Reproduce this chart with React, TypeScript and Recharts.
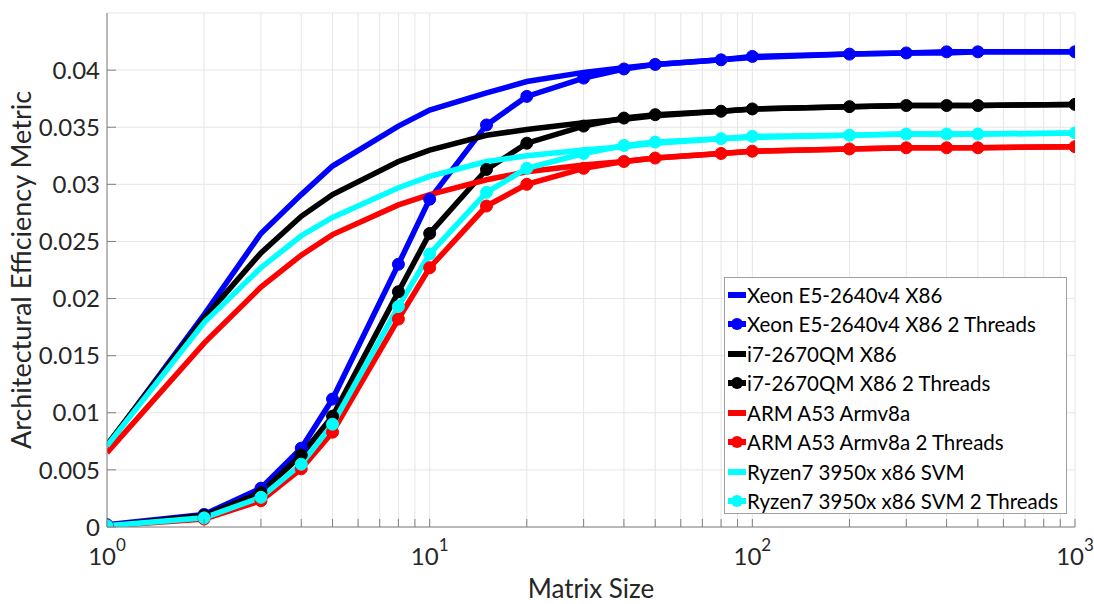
import React from 'react';
import { LineChart, Line, XAxis, YAxis, CartesianGrid, Legend } from 'recharts';

const sizes = [1, 2, 3, 4, 5, 8, 10, 15, 20, 30, 40, 50, 80, 100, 200, 300, 400, 500, 1000];

const xeon = [0.0071, 0.0186, 0.0257, 0.0291, 0.0316, 0.0351, 0.0365, 0.038, 0.039, 0.0398, 0.0402, 0.0405, 0.0409, 0.0411, 0.0414, 0.0415, 0.0415, 0.0416, 0.0416];
const xeon2 = [0.0002, 0.0011, 0.0034, 0.0069, 0.0112, 0.023, 0.0287, 0.0352, 0.0377, 0.0393, 0.0401, 0.0405, 0.0409, 0.0412, 0.0414, 0.0415, 0.0416, 0.0416, 0.0416];
const i7 = [0.0072, 0.0183, 0.024, 0.0272, 0.0291, 0.032, 0.033, 0.0343, 0.0348, 0.0354, 0.0357, 0.036, 0.0364, 0.0366, 0.0368, 0.0369, 0.0369, 0.0369, 0.037];
const i72 = [0.0001, 0.001, 0.003, 0.0063, 0.0097, 0.0206, 0.0257, 0.0313, 0.0336, 0.0351, 0.0358, 0.0361, 0.0364, 0.0366, 0.0368, 0.0369, 0.0369, 0.0369, 0.037];
const arm = [0.0065, 0.0161, 0.021, 0.0238, 0.0256, 0.0282, 0.0291, 0.0304, 0.0311, 0.0317, 0.032, 0.0323, 0.0327, 0.0329, 0.0331, 0.0332, 0.0332, 0.0332, 0.0333];
const arm2 = [0.0001, 0.0007, 0.0023, 0.0051, 0.0083, 0.0182, 0.0227, 0.0281, 0.03, 0.0314, 0.032, 0.0323, 0.0327, 0.0329, 0.0331, 0.0332, 0.0332, 0.0332, 0.0333];
const ryzen = [0.0071, 0.0179, 0.0227, 0.0255, 0.0271, 0.0297, 0.0307, 0.032, 0.0325, 0.033, 0.0333, 0.0336, 0.034, 0.0341, 0.0343, 0.0344, 0.0344, 0.0344, 0.0345];
const ryzen2 = [0.0001, 0.0008, 0.0026, 0.0055, 0.009, 0.0193, 0.0239, 0.0293, 0.0314, 0.0327, 0.0334, 0.0337, 0.034, 0.0342, 0.0343, 0.0344, 0.0344, 0.0344, 0.0345];

const yTicks = [0, 0.005, 0.01, 0.015, 0.02, 0.025, 0.03, 0.035, 0.04];
const xTicks = [1, 2, 3, 4, 5, 6, 7, 8, 9, 10, 20, 30, 40, 50, 60, 70, 80, 90, 100, 200, 300, 400, 500, 600, 700, 800, 900, 1000];

const series = [
  { key: 'xeon', name: 'Xeon E5-2640v4 X86', color: '#0000ff', values: xeon, dots: false },
  { key: 'xeon2', name: 'Xeon E5-2640v4 X86 2 Threads', color: '#0000ff', values: xeon2, dots: true },
  { key: 'i7', name: 'i7-2670QM X86', color: '#000000', values: i7, dots: false },
  { key: 'i72', name: 'i7-2670QM X86 2 Threads', color: '#000000', values: i72, dots: true },
  { key: 'arm', name: 'ARM A53 Armv8a', color: '#ff0000', values: arm, dots: false },
  { key: 'arm2', name: 'ARM A53 Armv8a 2 Threads', color: '#ff0000', values: arm2, dots: true },
  { key: 'ryzen', name: 'Ryzen7 3950x x86 SVM', color: '#00ffff', values: ryzen, dots: false },
  { key: 'ryzen2', name: 'Ryzen7 3950x x86 SVM 2 Threads', color: '#00ffff', values: ryzen2, dots: true },
];

const data = sizes.map((n, i) => {
  const row: Record<string, number> = { n };
  series.forEach((s) => { row[s.key] = s.values[i]; });
  return row;
});

const FONT = 'Lato, "Open Sans", sans-serif';
const AXIS = '#808080';
const TEXT = '#262626';

const XTick = (props: any) => {
  const { x, y, payload } = props;
  const e = Math.log10(payload.value);
  const major = Math.abs(e - Math.round(e)) < 1e-6;
  return (
    <g>
      <line x1={x} x2={x} y1={y} y2={y - 8} stroke={AXIS} />
      {major && (
        <text x={x} y={y + 38} textAnchor="middle" fill={TEXT} fontFamily={FONT} fontSize={24}>
          <tspan>10</tspan>
          <tspan dy={-14} fontSize={17}>{Math.round(e)}</tspan>
        </text>
      )}
    </g>
  );
};

const YTick = (props: any) => {
  const { x, y, payload } = props;
  return (
    <g>
      <line x1={x} x2={x + 9} y1={y} y2={y} stroke={AXIS} />
      <text x={x - 7} y={y} dy="0.36em" textAnchor="end" fill={TEXT} fontFamily={FONT} fontSize={24}>
        {parseFloat(payload.value.toFixed(3)).toString()}
      </text>
    </g>
  );
};

const LegendBox = () => (
  <div
    style={{
      width: 343,
      height: 237,
      boxSizing: 'border-box',
      border: '1px solid #a0a0a0',
      background: '#fff',
      paddingTop: 2,
      fontFamily: FONT,
      fontSize: 20.5,
      color: '#000',
    }}
  >
    {series.map((s) => (
      <div key={s.key} style={{ height: 29.5, display: 'flex', alignItems: 'center' }}>
        <svg width={22} height={14} style={{ flex: 'none' }}>
          <line x1={3} x2={21} y1={7} y2={7} stroke={s.color} strokeWidth={6} />
          {s.dots && <circle cx={12} cy={7} r={6} fill={s.color} />}
        </svg>
        <span style={{ marginLeft: 0, whiteSpace: 'nowrap' }}>{s.name}</span>
      </div>
    ))}
  </div>
);

export default function App() {
  return (
    <div style={{ position: 'absolute', left: 0, top: 0, width: 1094, height: 604, background: '#fff' }}>
      <LineChart width={1094} height={604} data={data} margin={{ top: 13, right: 19, left: 0, bottom: 0 }}>
        <CartesianGrid stroke="#e6e6e6" strokeWidth={1} />
        <XAxis
          dataKey="n"
          type="number"
          scale="log"
          domain={[1, 1000]}
          ticks={xTicks}
          interval={0}
          allowDataOverflow
          height={77}
          tickSize={0}
          tickMargin={0}
          tickLine={false}
          tick={<XTick />}
          axisLine={{ stroke: AXIS }}
          label={{
            content: () => (
              <text x={591} y={598} textAnchor="middle" fill={TEXT} fontFamily={FONT} fontSize={26}>
                Matrix Size
              </text>
            ),
          }}
        />
        <YAxis
          type="number"
          domain={[0, 0.045]}
          ticks={yTicks}
          interval={0}
          allowDataOverflow
          width={107}
          tickSize={0}
          tickMargin={0}
          tickLine={false}
          tick={<YTick />}
          axisLine={{ stroke: AXIS }}
          label={{
            content: () => (
              <text
                transform="translate(31,270) rotate(-90)"
                textAnchor="middle"
                fill={TEXT}
                fontFamily={FONT}
                fontSize={27}
              >
                Architectural Efficiency Metric
              </text>
            ),
          }}
        />
        {series.map((s) => (
          <Line
            key={s.key}
            dataKey={s.key}
            name={s.name}
            type="linear"
            stroke={s.color}
            strokeWidth={5.5}
            dot={s.dots ? { r: 6, fill: s.color, stroke: s.color, strokeWidth: 1 } : false}
            activeDot={false}
            isAnimationActive={false}
          />
        ))}
        <Legend
          layout="vertical"
          align="center"
          verticalAlign="middle"
          content={() => <LegendBox />}
          wrapperStyle={{ position: 'absolute', left: 724, top: 277, width: 343, height: 237 }}
        />
      </LineChart>
    </div>
  );
}
